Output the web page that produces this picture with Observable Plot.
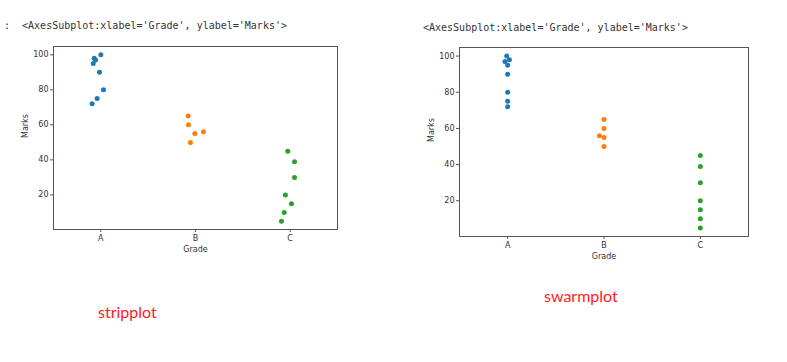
<!DOCTYPE html>
<html>
<head>
<meta charset="utf-8">
<script src="https://cdn.jsdelivr.net/npm/d3@7"></script>
<script src="https://cdn.jsdelivr.net/npm/@observablehq/plot@0.6"></script>
<style>
  html, body { margin: 0; padding: 0; background: #fff; }
  #page { position: relative; width: 787px; height: 362px; overflow: hidden; }
  .repr { position: absolute; font-family: "DejaVu Sans Mono", monospace; font-size: 10px; color: #333; white-space: pre; }
  .plot { position: absolute; }
  .note { position: absolute; font-family: Lato, "Open Sans", sans-serif; font-size: 16px; color: #ff1a1a; }
</style>
</head>
<body>
<div id="page">
  <div class="repr" style="left:4px; top:20px;">:  &lt;AxesSubplot:xlabel='Grade', ylabel='Marks'&gt;</div>
  <div class="repr" style="left:423px; top:22px;">&lt;AxesSubplot:xlabel='Grade', ylabel='Marks'&gt;</div>
  <div class="plot" id="strip" style="left:0px; top:40px;"></div>
  <div class="plot" id="swarm" style="left:400px; top:40px;"></div>
  <div class="note" style="left:98px; top:302px;">stripplot</div>
  <div class="note" style="left:544px; top:286px;">swarmplot</div>
</div>
<script>
// Categories and colours
const grades = ["A", "B", "C"];
const gradeColors = ["#1f77b4", "#ff7f0e", "#2ca02c"];
const yTicks = [20, 40, 60, 80, 100];

// Observations (grade, marks)
const studentGrade = ["A","A","A","A","A","A","A","A","B","B","B","B","B","C","C","C","C","C","C","C"];
const studentMarks = [100, 98, 97, 95, 90, 80, 75, 72, 65, 60, 56, 55, 50, 45, 39, 30, 20, 15, 10, 5];

// Horizontal offsets (in category units)
const stripOffset = [0.0, -0.07, -0.056, -0.08, -0.014, 0.028, -0.039, -0.092, -0.077, -0.074, 0.084, -0.007, -0.053, -0.025, 0.046, 0.046, -0.05, 0.014, -0.063, -0.092];
const swarmOffset = [-0.01, 0.018, -0.028, 0.0, 0.0, 0.0, 0.0, 0.0, 0.0, 0.0, -0.047, 0.0, 0.0, 0.0, 0.0, 0.0, 0.0, 0.0, 0.0, 0.0];

function rows(offsets) {
  return studentGrade.map((g, i) => ({
    grade: g,
    marks: studentMarks[i],
    pos: grades.indexOf(g) + offsets[i]
  }));
}

const font = "DejaVu Sans, sans-serif";

function chart(data, opts) {
  return Plot.plot({
    width: opts.width,
    height: opts.height,
    marginLeft: opts.ml,
    marginRight: opts.mr,
    marginTop: opts.mt,
    marginBottom: opts.mb,
    style: { fontFamily: font, fontSize: "8px", color: "#333", background: "#fff" },
    x: { type: "linear", domain: [-0.5, 2.5] },
    y: { domain: [0.25, 104.75] },
    color: { domain: grades, range: gradeColors },
    marks: [
      Plot.dot(data, { x: "pos", y: "marks", fill: (d) => d.grade, r: 2.5, stroke: null }),
      Plot.frame({ stroke: "#555", strokeWidth: 1 }),
      Plot.axisX({ ticks: [0, 1, 2], tickFormat: (i) => grades[i], tickSize: 3, tickPadding: 3, label: null, fontSize: 8, stroke: "#555" }),
      Plot.axisY({ ticks: yTicks, tickSize: 3, tickPadding: 2, label: null, fontSize: 8, stroke: "#555" }),
      Plot.text(["Grade"], { text: (d) => d, frameAnchor: "bottom", dy: 22, fontSize: 8, fill: "#333" }),
      Plot.text(["Marks"], { text: (d) => d, frameAnchor: "left", dx: -28, rotate: -90, fontSize: 8, fill: "#333" })
    ]
  });
}

document.getElementById("strip").append(chart(rows(stripOffset), { width: 360, height: 230, ml: 53, mr: 23, mt: 6, mb: 41 }));
document.getElementById("swarm").append(chart(rows(swarmOffset), { width: 387, height: 240, ml: 59, mr: 39, mt: 7, mb: 44 }));
</script>
</body>
</html>
